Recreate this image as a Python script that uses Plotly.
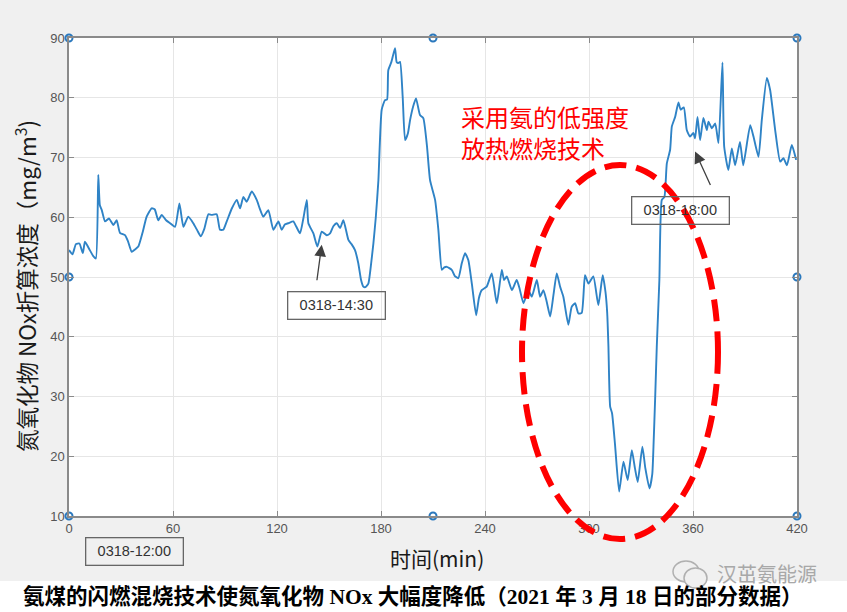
import plotly.graph_objects as go

# ---- data ----
time_min = [0, 2, 4, 6, 8, 9.2, 12, 14, 15.5, 16.9, 17.8, 18.9, 20.8, 23, 25.6, 27.5, 29.4, 32.3, 34, 36.2,
            38, 40, 42.5, 44.8, 47.7, 49.5, 51.5, 53.5, 56, 58.3, 61.2, 63.7, 66, 68.8, 71.7, 74, 76, 78,
            80.4, 82.3, 85.2, 87.1, 89, 91, 94, 96.8, 98.7, 100.6, 102.5, 105.4, 108.3, 110, 112.1, 115,
            117.9, 120.8, 122.7, 124.5, 126.5, 129.4, 131, 133.3, 135.2, 137.2, 138.1, 141, 143.3, 145.8,
            148.7, 150.6, 152.5, 154.5, 156.4, 158.3, 161.2, 163, 165, 166.9, 168.5, 169.8, 171, 172.7,
            174, 175.6, 177, 178.5, 180.4, 182.3, 183.5, 184.2, 186, 188.1, 189, 190, 191, 192.5, 193.9,
            195.5, 196.8, 198.5, 200.2, 202.5, 204.4, 206.5, 208.3, 211.2, 213.1, 215.1, 216.5, 218,
            220.8, 222.5, 224.6, 226.6, 228.5, 230.4, 232.4, 234.9, 236.5, 238.1, 241, 243.9, 246.8,
            249.7, 251, 252.6, 255.5, 258.3, 260, 262.2, 265, 267, 269.9, 271.8, 273.7, 275.5, 277.6,
            279.5, 281.4, 283.3, 285.2, 288.1, 290, 292, 293.9, 295.8, 297.7, 299.7, 302.5, 305.4, 307.9,
            309.5, 310.5, 311.2, 312.2, 313.3, 315, 317.4, 319.9, 322.3, 324.7, 326.5, 328.1, 330.8,
            332.5, 334.9, 336.5, 337.2, 338.2, 339.1, 340.6, 342, 343.5, 344.9, 346.8, 347.8, 349.7,
            351.6, 352.9, 354.7, 356.4, 358.3, 360.2, 361.2, 362.6, 364.1, 366, 368, 368.9, 370.9, 372.8,
            374.7, 377, 378, 380.4, 382.4, 384.3, 387.1, 389, 393, 394.9, 397.8, 399.7, 402.6, 404.5,
            407.4, 410.3, 412.2, 414.2, 417, 419.5]
nox = [54.5, 53.8, 55.5, 55.6, 54.0, 55.9, 54.5, 53.5, 53.1, 67.1, 62, 61.2, 59.3, 59.8, 58.7, 59.5, 57.4, 57.0, 56, 54.2,
       54.6, 55.1, 57.5, 60.1, 61.5, 61.3, 59.5, 60.4, 59.5, 59.0, 58.4, 62.3, 58.4, 60.1, 59.0, 57.8, 56.8, 58,
       60.5, 60.4, 60.5, 57.9, 57.9, 59.3, 61.5, 62.9, 61.5, 63.4, 62.6, 64.3, 62.9, 61.5, 60.1, 61.2,
       57.9, 59.3, 57.9, 58.8, 59.0, 59.3, 58.5, 57.3, 59.8, 62.9, 59.0, 57.3, 55.1, 57.6,
       57.0, 57.3, 58.5, 59.0, 58.2, 59.5, 56.2, 55.5, 54.5, 52.3, 49.5, 48.4, 48.3, 48.9,
       51.5, 55.6, 60, 66.2, 78.0, 79.6, 79.7, 84.6, 86, 88.3, 86, 85.8, 86, 80.2, 72.9,
       74, 76.3, 78.5, 79.9, 77.1, 76.6, 72, 66.2, 62.9, 57.9, 51.2, 51.6, 51.7,
       51.2, 50.2, 49.8, 52.3, 54.0, 52.8, 48.9, 43.6, 46.5, 47.8, 48.4, 50.6, 45.6,
       51.2, 49.5, 50.1, 47.8, 49.5, 48, 45.6, 47.8, 46.7, 49.5, 46.7, 47.8, 46, 43.4,
       47, 50.6, 48.4, 46.7, 42.0, 45, 45.6, 43.9, 44.0, 50.3, 48.9, 50.1, 45.3, 50.3,
       47.5, 44, 38.5, 28.3, 27.2, 22, 14.1, 19.1, 16.0, 21.0, 18, 15.7, 21.6,
       18, 14.6, 17, 21.6, 30, 38.3, 49.5, 62.9, 63.4, 69.0, 71.3, 75.2, 76.8,
       79.2, 78.0, 78.4, 74.6, 73.5, 74.1, 73.2, 76.8, 72.9, 76.6, 74.6, 76.0, 74.9, 75.7,
       72.4, 85.9, 71.8, 67.9, 71.5, 68.7, 72.6, 68.7, 75.4, 73.5, 70.1, 76.3, 83.3, 81.3,
       74.6, 69.3, 69.9, 68.7, 72.1, 69.6]

x_ticks = [0, 60, 120, 180, 240, 300, 360, 420]
y_ticks = [10, 20, 30, 40, 50, 60, 70, 80, 90]
handle_x = [0, 210, 420, 0, 420, 0, 210, 420]
handle_y = [90, 90, 90, 50, 50, 10, 10, 10]

y_title = "氮氧化物 NOx折算浓度（mg/m<sup>3</sup>)"
x_title = "时间(min)"
note_text = "采用氨的低强度<br>放热燃烧技术"
label_1430 = "0318-14:30"
label_1800 = "0318-18:00"
label_1200 = "0318-12:00"
caption = "氨煤的闪燃混烧技术使氮氧化物 NOx 大幅度降低（2021 年 3 月 18 日的部分数据）"
watermark = "汉茁氨能源"

CJK = "Noto Sans CJK SC"


def px(x):
    return (x - 69) / 728


def py(y):
    return (516 - y) / 478


fig = go.Figure()
fig.add_trace(go.Scatter(x=time_min, y=nox, mode="lines",
                         line=dict(color="#2f83c6", width=1.9, shape="spline", smoothing=0.5),
                         showlegend=False))
fig.add_trace(go.Scatter(x=handle_x, y=handle_y, mode="markers", cliponaxis=False,
                         marker=dict(symbol="circle", size=7, color="white",
                                     line=dict(color="#2a78bd", width=2)),
                         showlegend=False))

axis_common = dict(showline=True, linecolor="#8a8a8a", linewidth=1.5, mirror="ticks",
                   ticks="inside", ticklen=5, tickcolor="#8a8a8a",
                   showgrid=True, gridcolor="#e6e6e6", gridwidth=1, zeroline=False,
                   tickfont=dict(family="Liberation Sans, Arial", size=13, color="#555555"))

fig.update_layout(
    width=847, height=612,
    margin=dict(l=69, r=50, t=38, b=96),
    paper_bgcolor="#f0f0f0", plot_bgcolor="white",
    xaxis=dict(range=[0, 420], tickvals=x_ticks, **axis_common),
    yaxis=dict(range=[10, 90], tickvals=y_ticks, **axis_common),
)

# white caption strip
fig.add_shape(type="rect", xref="paper", yref="paper", x0=-0.2, x1=1.2,
              y0=py(620), y1=py(581), fillcolor="white", line=dict(width=0), layer="below")

# red dashed ellipse
fig.add_shape(type="circle", xref="paper", yref="paper",
              x0=px(522), x1=px(718), y0=py(539), y1=py(165),
              line=dict(color="#ff0000", width=6, dash="22px,10px"))

# wechat-like icon in watermark
fig.add_shape(type="circle", xref="paper", yref="paper", x0=px(673), x1=px(699), y0=py(582), y1=py(561),
              line=dict(color="#b0b0b0", width=1.5))
fig.add_shape(type="circle", xref="paper", yref="paper", x0=px(684), x1=px(707), y0=py(588), y1=py(568),
              line=dict(color="#b0b0b0", width=1.5), fillcolor="#f0f0f0")

ann = []
# axis titles
ann.append(dict(text=y_title, xref="paper", yref="paper", x=px(25), y=py(286), textangle=-90,
                showarrow=False, font=dict(family=CJK, size=22.5, color="#1a1a1a"),
                xanchor="center", yanchor="middle"))
ann.append(dict(text=x_title, xref="paper", yref="paper", x=px(437), y=py(558),
                showarrow=False, font=dict(family=CJK, size=21, color="#1a1a1a"),
                xanchor="center", yanchor="middle"))
# red note
ann.append(dict(text=note_text, xref="paper", yref="paper", x=px(459), y=py(132),
                showarrow=False, align="left", xanchor="left", yanchor="middle",
                font=dict(family=CJK, size=24, color="#ff0000")))
# label boxes
box_style = dict(showarrow=False, bordercolor="#666666", borderwidth=1.3, borderpad=0,
                 width=96, height=26, align="center",
                 font=dict(family="Liberation Sans, Arial", size=14.5, color="#333333"))
ann.append(dict(text=label_1430, xref="paper", yref="paper", x=px(336), y=py(305), **box_style))
ann.append(dict(text=label_1800, xref="paper", yref="paper", x=px(730), y=py(210), **box_style))
ann.append(dict(text=label_1200, xref="paper", yref="paper", x=px(85), y=py(566), **box_style))
# arrows
ann.append(dict(text="", x=145.8, y=55.4, xref="x", yref="y", showarrow=True,
                ax=-5, ay=37, arrowhead=2, arrowsize=1.8, arrowwidth=1.3, arrowcolor="#404040"))
ann.append(dict(text="", x=361.2, y=71.0, xref="x", yref="y", showarrow=True,
                ax=16, ay=35, arrowhead=2, arrowsize=1.8, arrowwidth=1.3, arrowcolor="#404040"))
# caption
ann.append(dict(text="<b>" + caption + "</b>", xref="paper", yref="paper", x=px(21),
                y=py(596), xanchor="left", yanchor="middle", showarrow=False,
                font=dict(family="Liberation Serif, " + CJK, size=21.5, color="black")))
# watermark
ann.append(dict(text=watermark, xref="paper", yref="paper", x=px(767), y=py(573),
                xanchor="center", yanchor="middle", showarrow=False,
                font=dict(family=CJK, size=20, color="#a8a8a8")))

fig.update_layout(annotations=ann)
fig.write_html("out.html", config={"displayModeBar": False},
               post_script="document.body.style.margin='0px';document.body.style.overflow='hidden';")
